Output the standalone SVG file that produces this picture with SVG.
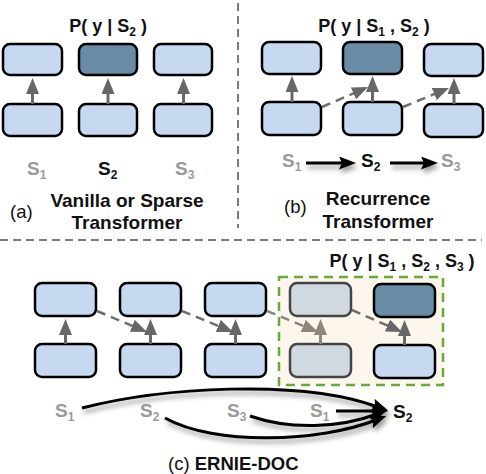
<svg xmlns="http://www.w3.org/2000/svg" width="486" height="474" viewBox="0 0 486 474">
<style>
  .box{fill:#c6d9f0;stroke:#000;stroke-width:2.5}
  .dark{fill:#6a8ba6;stroke:#000;stroke-width:2.5}
  .gbox{fill:#d0d9df;stroke:#444;stroke-width:2.5}
  .va{stroke:#676767;stroke-width:3;fill:none;marker-end:url(#gh)}
  .vb{stroke:#8a867c;stroke-width:3;fill:none;marker-end:url(#bh)}
  .da{stroke:#6e6e6e;stroke-width:2.5;fill:none;stroke-dasharray:9 6;marker-end:url(#gh)}
  .db{stroke:#8a867c;stroke-width:2.5;fill:none;stroke-dasharray:9 6;marker-end:url(#bh)}
  .ka{stroke:#000;stroke-width:3;fill:none;marker-end:url(#kh)}
  .sep{stroke:#7a7a7a;stroke-width:2;stroke-dasharray:8 5;fill:none}
  text{font-family:"Liberation Sans",Arial,sans-serif}
  .t{font-size:18px;font-weight:bold;fill:#111}
  .lab{font-size:19px;font-weight:bold;fill:#111;text-anchor:middle}
  .reg{font-size:18.5px;font-weight:normal;fill:#111}
  .sg{font-size:19px;font-weight:bold;fill:#9a9a9a}
  .sk{font-size:19px;font-weight:bold;fill:#111}
  .sub{font-size:12px}
</style>
<defs>
  <marker id="gh" viewBox="0 0 16 13" refX="7" refY="6.5" markerWidth="16" markerHeight="13" markerUnits="userSpaceOnUse" orient="auto"><path d="M0,0 L16,6.5 L0,13 z" fill="#676767"/></marker>
  <marker id="bh" viewBox="0 0 16 13" refX="7" refY="6.5" markerWidth="16" markerHeight="13" markerUnits="userSpaceOnUse" orient="auto"><path d="M0,0 L16,6.5 L0,13 z" fill="#8a867c"/></marker>
  <marker id="kh" viewBox="0 0 17 13" refX="6" refY="6.5" markerWidth="17" markerHeight="13" markerUnits="userSpaceOnUse" orient="auto"><path d="M0,0 L17,6.5 L0,13 L3,6.5 z" fill="#000"/></marker>
  <filter id="sh" x="-10%" y="-30%" width="120%" height="180%">
    <feGaussianBlur in="SourceAlpha" stdDeviation="2.5" result="b"/>
    <feOffset in="b" dx="2" dy="4" result="o"/>
    <feFlood flood-color="#000" flood-opacity="0.4"/>
    <feComposite in2="o" operator="in" result="s"/>
    <feMerge><feMergeNode in="s"/><feMergeNode in="SourceGraphic"/></feMerge>
  </filter>
</defs>

<!-- separators -->
<g id="separators">
  <line class="sep" x1="238" y1="3" x2="238" y2="228"/>
  <line class="sep" x1="0" y1="240" x2="482" y2="240"/>
</g>

<!-- panel c highlight -->
<g id="window">
  <rect x="279" y="277" width="164" height="108" fill="#fcf6ec" stroke="#6aaa3a" stroke-width="2.5" stroke-dasharray="9 6"/>
</g>

<!-- panel a nodes -->
<g id="a-top1"><rect class="box" x="3" y="44" width="59" height="31" rx="7"/></g>
<g id="a-top2"><rect class="dark" x="79" y="44" width="58" height="31" rx="7"/></g>
<g id="a-top3"><rect class="box" x="154" y="44" width="58" height="31" rx="7"/></g>
<g id="a-bot1"><rect class="box" x="3" y="104" width="59" height="32" rx="7"/></g>
<g id="a-bot2"><rect class="box" x="79" y="104" width="58" height="32" rx="7"/></g>
<g id="a-bot3"><rect class="box" x="154" y="104" width="58" height="32" rx="7"/></g>

<!-- panel b nodes -->
<g id="b-top1"><rect class="box" x="262" y="42" width="59" height="32" rx="7"/></g>
<g id="b-top2"><rect class="dark" x="343" y="42" width="59" height="32" rx="7"/></g>
<g id="b-top3"><rect class="box" x="424" y="44" width="59" height="32" rx="7"/></g>
<g id="b-bot1"><rect class="box" x="262" y="102" width="59" height="33" rx="7"/></g>
<g id="b-bot2"><rect class="box" x="343" y="102" width="59" height="33" rx="7"/></g>
<g id="b-bot3"><rect class="box" x="424" y="104" width="59" height="33" rx="7"/></g>

<!-- panel c nodes -->
<g id="c-top1"><rect class="box" x="35" y="283" width="61" height="33" rx="7"/></g>
<g id="c-top2"><rect class="box" x="120" y="283" width="61" height="33" rx="7"/></g>
<g id="c-top3"><rect class="box" x="205" y="283" width="61" height="33" rx="7"/></g>
<g id="c-top4"><rect class="gbox" x="290" y="283" width="61" height="33" rx="7"/></g>
<g id="c-top5"><rect class="dark" x="374" y="284" width="61" height="33" rx="7"/></g>
<g id="c-bot1"><rect class="box" x="35" y="344" width="61" height="33" rx="7"/></g>
<g id="c-bot2"><rect class="box" x="120" y="344" width="61" height="33" rx="7"/></g>
<g id="c-bot3"><rect class="box" x="205" y="344" width="61" height="33" rx="7"/></g>
<g id="c-bot4"><rect class="gbox" x="290" y="344" width="61" height="33" rx="7"/></g>
<g id="c-bot5"><rect class="box" x="374" y="345" width="61" height="33" rx="7"/></g>

<!-- connectors -->
<g id="connectors">
  <line class="va" x1="32.5" y1="104" x2="32.5" y2="87"/>
  <line class="va" x1="108" y1="104" x2="108" y2="87"/>
  <line class="va" x1="183.5" y1="104" x2="183.5" y2="87"/>

  <line class="va" x1="292" y1="102" x2="292" y2="85"/>
  <line class="va" x1="372.5" y1="102" x2="372.5" y2="85"/>
  <line class="va" x1="454" y1="104" x2="454" y2="87"/>
  <line class="da" x1="322" y1="107" x2="359.8" y2="90.6"/>
  <line class="da" x1="403" y1="107" x2="440.7" y2="91.4"/>

  <line class="va" x1="65.5" y1="344" x2="65.5" y2="328"/>
  <line class="va" x1="150.5" y1="344" x2="150.5" y2="328"/>
  <line class="va" x1="235.5" y1="344" x2="235.5" y2="328"/>
  <line class="vb" x1="320.5" y1="344" x2="320.5" y2="328"/>
  <line class="va" x1="404.5" y1="345" x2="404.5" y2="329"/>
  <line class="da" x1="97" y1="311" x2="138.7" y2="328.5"/>
  <line class="da" x1="182" y1="311" x2="224.7" y2="328.6"/>
  <line class="db" x1="267" y1="311" x2="309.7" y2="328.6"/>
  <line class="da" x1="352" y1="310" x2="393.8" y2="328.4"/>

  <g filter="url(#sh)">
    <line class="ka" x1="306" y1="163" x2="345" y2="163"/>
    <line class="ka" x1="390" y1="163" x2="427" y2="163"/>
    <path class="ka" d="M82,408 C160,388 300,378 378,407"/>
    <path class="ka" d="M165,418 C215,446 320,442 376,420"/>
    <path class="ka" d="M250,416 C290,430 340,428 377,414"/>
    <line class="ka" x1="336" y1="411" x2="377" y2="411"/>
  </g>
</g>

<!-- labels -->
<g id="labels">
  <text class="t" x="108" y="32" text-anchor="middle">P( y | S<tspan class="sub" dy="4">2</tspan><tspan dy="-4"> )</tspan></text>
  <text class="t" x="374" y="32" text-anchor="middle">P( y | S<tspan class="sub" dy="4">1</tspan><tspan dy="-4"> , S</tspan><tspan class="sub" dy="4">2</tspan><tspan dy="-4"> )</tspan></text>
  <text class="t" x="402" y="267" text-anchor="middle">P( y | S<tspan class="sub" dy="4">1</tspan><tspan dy="-4"> , S</tspan><tspan class="sub" dy="4">2</tspan><tspan dy="-4"> , S</tspan><tspan class="sub" dy="4">3</tspan><tspan dy="-4"> )</tspan></text>

  <text class="sg" x="27" y="175">S<tspan class="sub" dy="4">1</tspan></text>
  <text class="sk" x="98" y="175">S<tspan class="sub" dy="4">2</tspan></text>
  <text class="sg" x="175" y="175">S<tspan class="sub" dy="4">3</tspan></text>

  <text class="reg" x="10" y="218">(a)</text>
  <text class="lab" x="127" y="207">Vanilla or Sparse</text>
  <text class="lab" x="127" y="229">Transformer</text>

  <text class="sg" x="282" y="167">S<tspan class="sub" dy="4">1</tspan></text>
  <text class="sk" x="361" y="167">S<tspan class="sub" dy="4">2</tspan></text>
  <text class="sg" x="441" y="167">S<tspan class="sub" dy="4">3</tspan></text>

  <text class="reg" x="284" y="213">(b)</text>
  <text class="lab" x="378" y="205">Recurrence</text>
  <text class="lab" x="378" y="228">Transformer</text>

  <text class="sg" x="55" y="417">S<tspan class="sub" dy="4">1</tspan></text>
  <text class="sg" x="140" y="417">S<tspan class="sub" dy="4">2</tspan></text>
  <text class="sg" x="227" y="417">S<tspan class="sub" dy="4">3</tspan></text>
  <text class="sg" x="310" y="417">S<tspan class="sub" dy="4">1</tspan></text>
  <text class="sk" x="393" y="418">S<tspan class="sub" dy="4">2</tspan></text>

  <text class="reg" x="168" y="470">(c) <tspan font-weight="bold">ERNIE-DOC</tspan></text>
</g>
</svg>
